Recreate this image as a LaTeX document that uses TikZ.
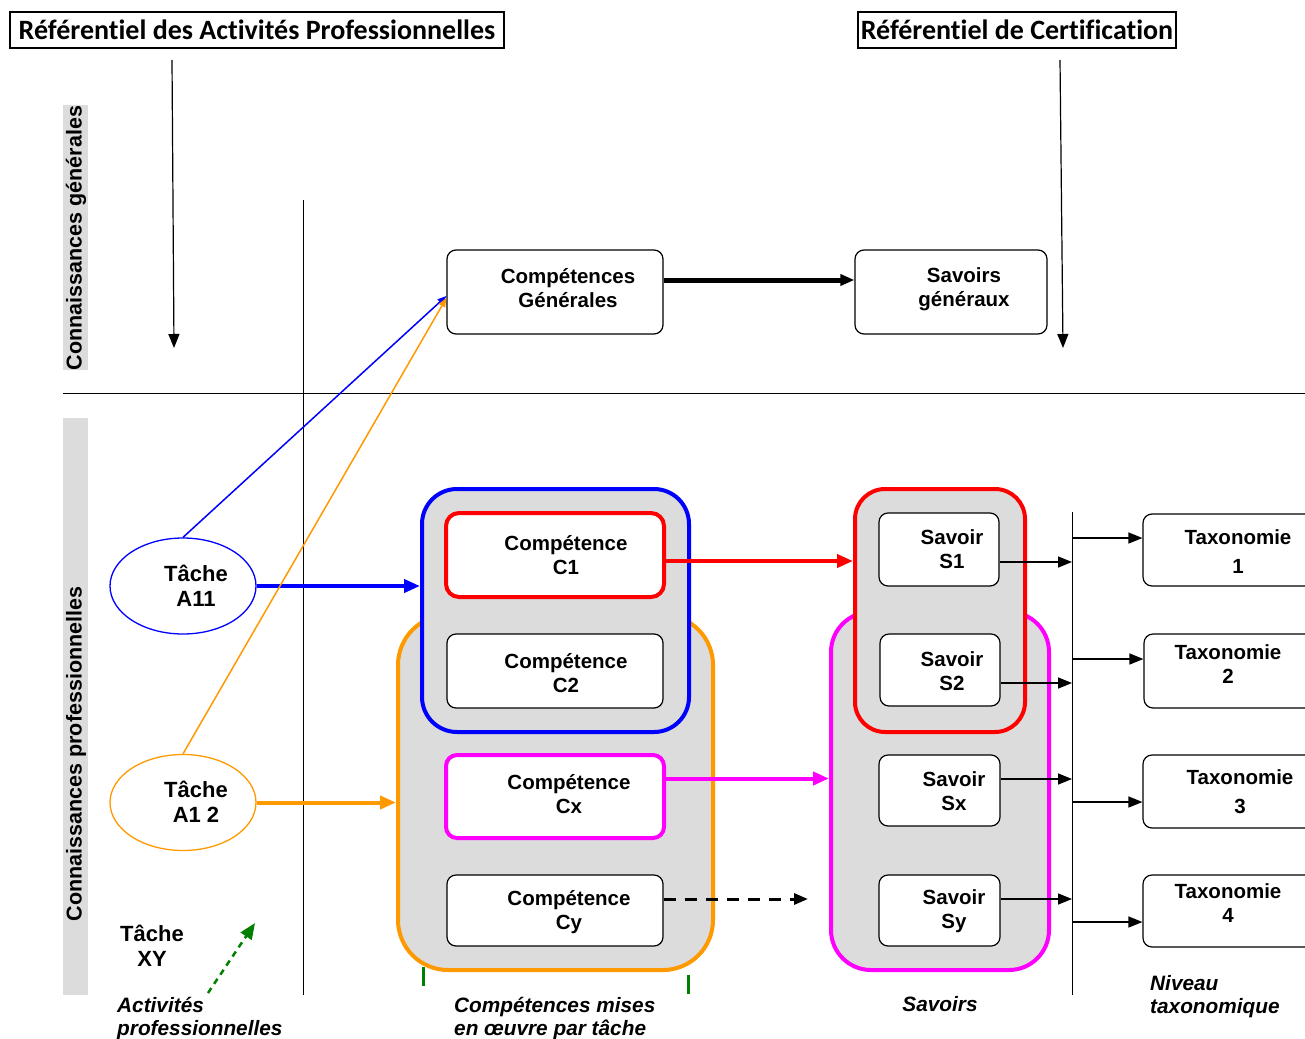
\documentclass[tikz,border=0pt]{standalone}
\usepackage{fontspec}
\setmainfont{Liberation Sans}
\newfontfamily\hdrfont[Ligatures=NoCommon]{Carlito}
\usetikzlibrary{arrows.meta,shapes.geometric}
\definecolor{grpgray}{RGB}{220,220,220}
\definecolor{myorange}{RGB}{255,153,0}
\definecolor{mymagenta}{RGB}{255,0,255}
\definecolor{myblue}{RGB}{0,0,255}
\definecolor{myred}{RGB}{255,0,0}
\definecolor{mygreen}{RGB}{0,128,0}
\begin{document}
\begin{tikzpicture}[x=1pt,y=-1pt,
  hdr/.style={draw, line width=1.5pt, inner sep=0pt, font=\hdrfont\bfseries\fontsize{28}{30}\selectfont},
  box/.style={draw, fill=white, line width=1.2pt, rounded corners=9pt, inner sep=0pt},
  grp/.style={fill=grpgray, line width=4pt, inner sep=0pt},
  txt/.style={font=\bfseries\fontsize{20.5}{24}\selectfont, align=center, inner sep=0pt},
  etxt/.style={font=\bfseries\fontsize{22}{25}\selectfont, align=center, inner sep=0pt},
  lbl/.style={font=\bfseries\itshape\fontsize{20.8}{23}\selectfont, inner sep=0pt},
  bartxt/.style={font=\bfseries\fontsize{21.5}{23}\selectfont, rotate=90, inner sep=0pt},
  tip/.style={-{Triangle[length=14pt,width=11pt]}},
  stip/.style={-{Triangle[length=9pt,width=7pt]}},
  thinln/.style={line width=1.2pt}
]
\useasboundingbox (0,0) rectangle (1305,1038);

% headers
\node[hdr, minimum width=494pt, minimum height=36pt] (h1) at (257,30) {Référentiel des Activités Professionnelles};
\node[hdr, minimum width=318pt, minimum height=36pt] (h2) at (1017,30) {Référentiel de Certification};
\coordinate (a1s) at (172,60); \coordinate (a1e) at (174,348);
\coordinate (a2s) at (1060,60); \coordinate (a2e) at (1063,348);
\draw[thinln, tip] (a1s) -- (a1e);
\draw[thinln, tip] (a2s) -- (a2e);

% side bars
\node[fill=grpgray, minimum width=25pt, minimum height=265pt, inner sep=0pt] (barg) at (75.5,237.5) {};
\node[bartxt] (bargt) at (76,238) {Connaissances générales};
\node[fill=grpgray, minimum width=25pt, minimum height=577pt, inner sep=0pt] (barp) at (75.5,706.5) {};
\node[bartxt] (barpt) at (76,754) {Connaissances professionnelles};

% separators
\coordinate (hl1) at (63,393); \coordinate (hl2) at (1305,393);
\coordinate (vl1) at (303,200); \coordinate (vl2) at (303,995);
\coordinate (vt) at (1072,512); \coordinate (vb) at (1072,995);
\draw[line width=1pt] (hl1) -- (hl2);
\draw[line width=1pt] (vl1) -- (vl2);
\draw[line width=1pt] (vt) -- (vb);

% general row
\node[box, minimum width=216pt, minimum height=84pt] (cg) at (555,292) {};
\node[txt] (cgt) at (568,288) {Compétences\\Générales};
\node[box, minimum width=192pt, minimum height=84pt] (sg) at (951,292) {};
\node[txt] (sgt) at (964,289) {Savoirs\\généraux};
\draw[line width=5pt, tip] ([yshift=12pt]cg.east) -- ([yshift=12pt]sg.west);

% groups (orange behind blue, magenta behind red)
\node[grp, draw=myorange, rounded corners=50pt, minimum width=315pt, minimum height=355pt] (ogrp) at (555.5,792.5) {};
\node[grp, draw=myblue, rounded corners=35pt, minimum width=267pt, minimum height=243pt] (bgrp) at (555.5,610.5) {};
\node[grp, draw=mymagenta, rounded corners=40pt, minimum width=218pt, minimum height=358pt] (mgrp) at (940,791) {};
\node[grp, draw=myred, rounded corners=30pt, minimum width=170pt, minimum height=243pt] (rgrp) at (940,610.5) {};

% competences
\node[box, draw=myred, line width=4pt, rounded corners=13pt, minimum width=218pt, minimum height=84pt] (c1) at (555,555) {};
\node[txt] (c1t) at (566,555) {Compétence\\C1};
\node[box, minimum width=216pt, minimum height=74pt] (c2) at (555,671) {};
\node[txt] (c2t) at (566,673) {Compétence\\C2};
\node[box, draw=mymagenta, line width=4pt, rounded corners=11pt, minimum width=218pt, minimum height=83pt] (cx) at (555,796.5) {};
\node[txt] (cxt) at (569,794) {Compétence\\Cx};
\node[box, minimum width=216pt, minimum height=71pt] (cy) at (555,910.5) {};
\node[txt] (cyt) at (569,912) {Compétence\\Cy};

% savoirs
\node[box, minimum width=120pt, minimum height=73pt] (s1) at (939,549.5) {};
\node[txt] (s1t) at (952,549) {Savoir\\S1};
\node[box, minimum width=120pt, minimum height=72pt] (s2) at (940,670) {};
\node[txt] (s2t) at (952,671) {Savoir\\S2};
\node[box, minimum width=121pt, minimum height=71pt] (sx) at (939.5,790.5) {};
\node[txt] (sxt) at (954,791) {Savoir\\Sx};
\node[box, minimum width=121pt, minimum height=71pt] (sy) at (939.5,910.5) {};
\node[txt] (syt) at (954,911) {Savoir\\Sy};

% taxonomies
\node[box, minimum width=177pt, minimum height=72pt] (t1) at (1231.5,550) {};
\node[txt, font=\bfseries\fontsize{20.5}{29}\selectfont] (t1t) at (1238,552) {Taxonomie\\1};
\node[box, minimum width=176pt, minimum height=74pt] (t2) at (1232,671) {};
\node[txt] (t2t) at (1228,664) {Taxonomie\\2};
\node[box, minimum width=177pt, minimum height=73pt] (t3) at (1231.5,791.5) {};
\node[txt, font=\bfseries\fontsize{20.5}{29}\selectfont] (t3t) at (1240,792) {Taxonomie\\3};
\node[box, minimum width=177pt, minimum height=72pt] (t4) at (1231.5,911) {};
\node[txt] (t4t) at (1228,903) {Taxonomie\\4};

% tasks
\node[ellipse, draw=myblue, line width=1.3pt, minimum width=146pt, minimum height=96pt, inner sep=0pt] (a11) at (183,586) {};
\node[etxt] (a11t) at (196,586) {Tâche\\A11};
\node[ellipse, draw=myorange, line width=1.3pt, minimum width=146pt, minimum height=96pt, inner sep=0pt] (a12) at (183,802.5) {};
\node[etxt] (a12t) at (196,802) {Tâche\\A1 2};
\node[etxt] (xyt) at (152,946) {Tâche\\ XY};

% task connectors
\draw[myblue, line width=4pt, -{Triangle[length=16pt,width=13pt]}] (a11.east) -- (a11.east -| bgrp.west);
\draw[myorange, line width=4pt, -{Triangle[length=16pt,width=13pt]}] (a12.east) -- (a12.east -| ogrp.west);
\draw[myblue, line width=1.5pt, stip] (a11.north) -- ([yshift=-4pt]cg.west);
\draw[myorange, line width=1.5pt, stip] (a12.north) -- ([yshift=-6pt]cg.west);

% competence to savoirs
\draw[myred, line width=4pt, -{Triangle[length=16pt,width=13pt]}] ([yshift=-6pt]c1.east) -- ([yshift=-6pt]c1.east -| rgrp.west);
\draw[mymagenta, line width=4pt, -{Triangle[length=16pt,width=13pt]}] ([yshift=18pt]cx.east) -- ([yshift=18pt]cx.east -| mgrp.west);
\coordinate (cyend) at (808,899);
\draw[line width=3pt, dash pattern=on 12pt off 9pt, tip] ([yshift=11.5pt]cy.east) -- (cyend);

% savoirs to vertical line
\draw[line width=1.5pt, tip] ([yshift=-12.5pt]s1.east) -- ([yshift=-12.5pt]s1.east -| vt);
\draw[line width=1.5pt, tip] ([yshift=-13pt]s2.east) -- ([yshift=-13pt]s2.east -| vt);
\draw[line width=1.5pt, tip] ([yshift=11.5pt]sx.east) -- ([yshift=11.5pt]sx.east -| vt);
\draw[line width=1.5pt, tip] ([yshift=11.5pt]sy.east) -- ([yshift=11.5pt]sy.east -| vt);

% vertical line to taxonomies
\draw[line width=1.5pt, tip] ([yshift=12pt]t1.west -| vt) -- ([yshift=12pt]t1.west);
\draw[line width=1.5pt, tip] ([yshift=12pt]t2.west -| vt) -- ([yshift=12pt]t2.west);
\draw[line width=1.5pt, tip] ([yshift=-10.5pt]t3.west -| vt) -- ([yshift=-10.5pt]t3.west);
\draw[line width=1.5pt, tip] ([yshift=-11pt]t4.west -| vt) -- ([yshift=-11pt]t4.west);

% green marks
\coordinate (gs) at (208,993); \coordinate (ge) at (255,923);
\draw[mygreen, line width=2.5pt, dash pattern=on 6pt off 5pt, -{Triangle[length=16pt,width=13pt]}] (gs) -- (ge);
\coordinate (g1a) at (423,967); \coordinate (g1b) at (423,986);
\coordinate (g2a) at (688,975); \coordinate (g2b) at (688,994);
\draw[mygreen, line width=3pt] (g1a) -- (g1b);
\draw[mygreen, line width=3pt] (g2a) -- (g2b);

% bottom labels
\node[lbl, align=left, anchor=north west] (lact) at (117,997) {Activités\\professionnelles};
\node[lbl, align=left, anchor=north west] (lcomp) at (454,997) {Compétences mises\\en œuvre par tâche};
\node[lbl] (lsav) at (940,1004) {Savoirs};
\node[lbl, align=left, anchor=north west] (lniv) at (1150,975) {Niveau\\taxonomique};
\end{tikzpicture}
\end{document}
